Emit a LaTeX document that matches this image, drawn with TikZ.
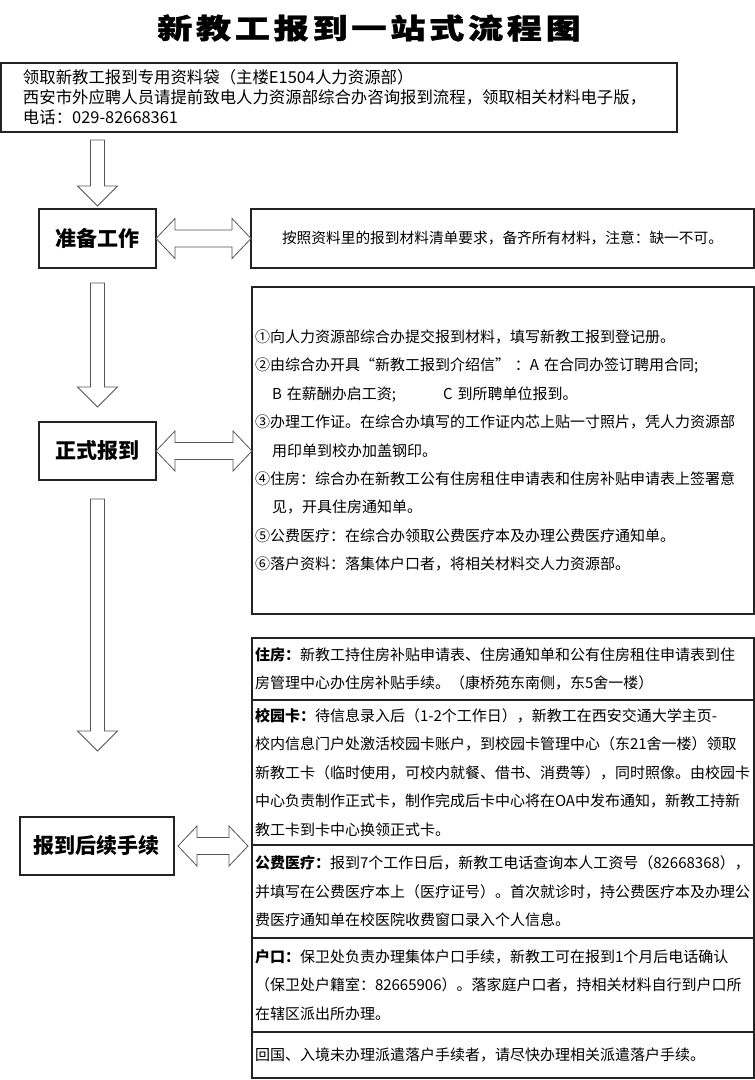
\documentclass[tikz,border=0pt]{standalone}
\usepackage{graphicx}
\usepackage{fontspec}
\setmainfont{Noto Sans CJK SC}
\newfontfamily\titlefont{Noto Sans CJK SC}[LetterSpace=11, BoldFeatures={FakeBold=1.3}]
\usetikzlibrary{calc,positioning}
\definecolor{boxline}{RGB}{35,35,35}
\definecolor{arrowline}{RGB}{85,85,85}
\newcommand{\downblock}[2]{%
  \draw[blockarrow] let \p1=(#1), \p2=(#2) in
    (\x1-7pt,\y1) -- (\x1+7pt,\y1) -- (\x1+7pt,\y2+20pt) -- (\x1+20pt,\y2+20pt) -- (\x1,\y2)
    -- (\x1-20pt,\y2+20pt) -- (\x1-7pt,\y2+20pt) -- cycle;}
\newcommand{\bothblock}[2]{%
  \draw[blockarrow] let \p1=(#1), \p2=(#2) in
    (\x1,\y1) -- (\x1+19pt,\y1+20pt) -- (\x1+19pt,\y1+8.5pt) -- (\x2-19pt,\y1+8.5pt) -- (\x2-19pt,\y1+20pt)
    -- (\x2,\y1) -- (\x2-19pt,\y1-20pt) -- (\x2-19pt,\y1-8.5pt) -- (\x1+19pt,\y1-8.5pt) -- (\x1+19pt,\y1-20pt) -- cycle;}

\begin{document}
\begin{tikzpicture}[x=1pt, y=-1pt,
    box/.style={draw=boxline, line width=1.1pt, outer sep=0pt, inner sep=0pt},
    stage/.style={box, font=\bfseries\fontsize{21}{25}\selectfont},
    note/.style={box, align=left, inner xsep=3pt, text width=496, minimum width=502, font=\fontsize{15}{28.4}\selectfont},
    blockarrow/.style={draw=arrowline, line width=0.8pt, fill=white, line join=miter}]
    \useasboundingbox (0,0) rectangle (755,1080);
    \node (title) at (369,28) [font=\titlefont\bfseries\fontsize{28}{32}\selectfont] {\scalebox{1.25}[1]{新教工报到一站式流程图}};
    \node (top) at (339,97.5) [box, align=left, minimum height=69, text width=632, inner xsep=22, font=\fontsize{16.4}{20}\selectfont]
      {领取新教工报到专用资料袋（主楼E1504人力资源部）\\
       西安市外应聘人员请提前致电人力资源部综合办咨询报到流程，领取相关材料电子版，\\
       电话：029-82668361};
    \node (prep) at (97.5,238.5) [stage, minimum width=117, minimum height=59] {准备工作};
    \node (prepnote) at (502.5,238.5) [box, minimum width=503, minimum height=59, font=\fontsize{14.7}{18}\selectfont]
      {按照资料里的报到材料清单要求，备齐所有材料，注意：缺一不可。};
    \node (formal) at (97.5,451) [stage, minimum width=117, minimum height=58] {正式报到};
    \node (formalnote) at (503,450.5) [note, minimum height=327]
      {①向人力资源部综合办提交报到材料，填写新教工报到登记册。\\
       ②由综合办开具“新教工报到介绍信” ：A 在合同办签订聘用合同;\\
       \hspace*{17pt}\makebox[171pt][l]{B 在薪酬办启工资;}C 到所聘单位报到。\\
       ③办理工作证。在综合办填写的工作证内芯上贴一寸照片，凭人力资源部\\
       \hspace*{17pt}用印单到校办加盖钢印。\\
       ④住房：综合办在新教工公有住房租住申请表和住房补贴申请表上签署意\\
       \hspace*{17pt}见，开具住房通知单。\\
       ⑤公费医疗：在综合办领取公费医疗本及办理公费医疗通知单。\\
       ⑥落户资料：落集体户口者，将相关材料交人力资源部。};
    \node (after) at (97,846) [stage, minimum width=154, minimum height=58] {报到后续手续};
    \node (house) at (503,669) [note, minimum height=62]
      {\textbf{住房：}新教工持住房补贴申请表、住房通知单和公有住房租住申请表到住\\
       房管理中心办住房补贴手续。（康桥苑东南侧，东5舍一楼）};
    \node (card) [note, below=0pt of house, minimum height=145]
      {\textbf{校园卡：}待信息录入后（1-2个工作日），新教工在西安交通大学主页-\\
       校内信息门户处激活校园卡账户，到校园卡管理中心（东21舍一楼）领取\\
       新教工卡（临时使用，可校内就餐、借书、消费等），同时照像。由校园卡\\
       中心负责制作正式卡，制作完成后卡中心将在OA中发布通知，新教工持新\\
       教工卡到卡中心换领正式卡。};
    \node (med) [note, below=0pt of card, minimum height=93]
      {\textbf{公费医疗：}报到7个工作日后，新教工电话查询本人工资号（82668368），\\
       并填写在公费医疗本上（医疗证号）。首次就诊时，持公费医疗本及办理公\\
       费医疗通知单在校医院收费窗口录入个人信息。};
    \node (hukou) [note, below=0pt of med, minimum height=94]
      {\textbf{户口：}保卫处负责办理集体户口手续，新教工可在报到1个月后电话确认\\
       （保卫处户籍室：82665906）。落家庭户口者，持相关材料自行到户口所\\
       在辖区派出所办理。};
    \node (back) [note, below=0pt of hukou, minimum height=46]
      {回国、入境未办理派遣落户手续者，请尽快办理相关派遣落户手续。};
    \downblock{$(top.south -| prep.north)+(0,8)$}{$(prep.north)+(0,-3)$}
    \downblock{$(prep.south)+(0,15)$}{$(formal.north)+(0,-15)$}
    \downblock{$(formal.south)+(0,19)$}{$(after.north)+(0,-66)$}
    \bothblock{prep.east}{prepnote.west}
    \bothblock{formal.east}{formal.east -| formalnote.west}
    \bothblock{$(after.east)+(4,0)$}{$(after.east -| card.west)+(-4,0)$}
  \end{tikzpicture}
\end{document}
